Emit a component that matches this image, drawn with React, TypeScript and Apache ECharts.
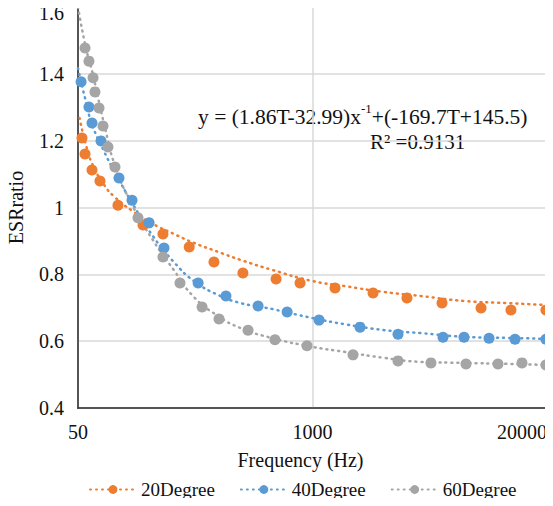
import React, { useEffect, useRef } from "react";
import * as echarts from "echarts";

// Measured points (frequency Hz, ESR ratio)
const freq20 = [52.6, 54.7, 59.8, 66.2, 83.3, 114.7, 148, 207, 284, 411, 628, 853, 1334, 2167, 3343, 5231, 8610, 12620, 19730];
const esr20 = [1.208, 1.16, 1.112, 1.079, 1.007, 0.948, 0.921, 0.882, 0.837, 0.804, 0.786, 0.774, 0.759, 0.744, 0.729, 0.714, 0.699, 0.693, 0.693];

const freq40 = [52.0, 57.5, 59.8, 67.1, 84.4, 99.7, 124, 150, 232, 331, 499, 723, 1087, 1835, 2981, 5298, 6930, 9535, 13290, 19730];
const esr40 = [1.376, 1.301, 1.253, 1.199, 1.088, 1.022, 0.954, 0.879, 0.774, 0.735, 0.705, 0.687, 0.663, 0.642, 0.621, 0.612, 0.612, 0.609, 0.606, 0.606];

const freq60 = [54.7, 57.5, 60.6, 62.1, 65.4, 68.8, 73.3, 80.2, 107.6, 148, 184, 244, 303, 439, 619, 932, 1678, 2981, 4541, 7107, 10690, 14530, 19730];
const esr60 = [1.477, 1.438, 1.388, 1.346, 1.298, 1.244, 1.181, 1.121, 0.969, 0.852, 0.774, 0.702, 0.666, 0.633, 0.604, 0.586, 0.559, 0.541, 0.535, 0.532, 0.532, 0.535, 0.529];

// Trend curves
const trendFreq = [50, 55, 60, 70, 80, 100, 130, 170, 220, 300, 400, 600, 1000, 1500, 2500, 4000, 7000, 12000, 20000];
const trendFreq20 = [51, 55, 60, 70, 80, 100, 130, 170, 220, 300, 400, 600, 1000, 1500, 2500, 4000, 7000, 12000, 20000];
const trend20 = [1.268, 1.193, 1.13, 1.067, 1.031, 0.99, 0.951, 0.921, 0.894, 0.867, 0.843, 0.813, 0.78, 0.765, 0.747, 0.735, 0.72, 0.714, 0.708];
const trend40 = [1.417, 1.322, 1.247, 1.166, 1.106, 1.013, 0.915, 0.837, 0.78, 0.738, 0.714, 0.696, 0.669, 0.651, 0.633, 0.624, 0.613, 0.61, 0.607];
const trend60 = [1.6, 1.483, 1.405, 1.247, 1.127, 1.007, 0.903, 0.813, 0.732, 0.675, 0.639, 0.609, 0.583, 0.568, 0.55, 0.538, 0.535, 0.532, 0.529];

const seriesNames = ["20Degree", "40Degree", "60Degree"];
const colors = ["#ED7D31", "#5B9BD5", "#A5A5A5"];
const xTicks = [50, 1000, 20000];

const FONT = "Liberation Serif";

function zip(xs: number[], ys: number[]) {
  return xs.map((x, i) => [x, ys[i]]);
}

export default function App() {
  const ref = useRef<HTMLDivElement>(null);
  useEffect(() => {
    if (!ref.current) return;
    const chart = echarts.init(ref.current, null, { renderer: "svg" });
    const pts = [zip(freq20, esr20), zip(freq40, esr40), zip(freq60, esr60)];
    const trends = [zip(trendFreq20, trend20), zip(trendFreq, trend40), zip(trendFreq, trend60)];
    const series: any[] = [];
    for (let i = 0; i < 3; i++) {
      series.push({
        name: seriesNames[i],
        type: "line",
        data: trends[i],
        smooth: true,
        symbol: "circle",
        symbolSize: 10,
        showSymbol: false,
        itemStyle: { color: colors[i] },
        lineStyle: { color: colors[i], width: 2.5, type: [1, 5], cap: "round" },
        z: 2,
      });
    }
    for (let i = 0; i < 3; i++) {
      series.push({
        name: seriesNames[i],
        type: "scatter",
        data: pts[i],
        symbol: "circle",
        symbolSize: 11,
        itemStyle: { color: colors[i], opacity: 1 },
        z: 3,
      });
    }
    chart.setOption({
      animation: false,
      textStyle: { fontFamily: FONT },
      grid: {
        left: 78,
        right: 6,
        top: 7,
        bottom: 98,
        show: true,
        borderColor: "#333",
        borderWidth: 1.5,
        outerBoundsMode: "none",
        containLabel: false,
      },
      xAxis: {
        type: "log",
        logBase: 20,
        min: 50,
        max: 20000,
        name: "Frequency (Hz)",
        nameLocation: "middle",
        nameGap: 42,
        nameTextStyle: { fontSize: 20, color: "#111", fontFamily: FONT, padding: [0, 24, 0, 0] },
        axisLine: { show: true, lineStyle: { color: "#333", width: 1.5 } },
        axisTick: { show: false, customValues: xTicks },
        axisLabel: {
          customValues: xTicks,
          fontSize: 20,
          color: "#111",
          fontFamily: FONT,
          margin: 14,
          alignMaxLabel: "right",
          formatter: (v: number) => String(Math.round(v)),
        },
        splitLine: { show: true, lineStyle: { color: "#d9d9d9", width: 1.5 } },
      },
      yAxis: {
        type: "value",
        min: 0.4,
        max: 1.6,
        interval: 0.2,
        name: "ESRratio",
        nameLocation: "middle",
        nameGap: 52,
        nameTextStyle: { fontSize: 20, color: "#111", fontFamily: FONT },
        axisLine: { show: true, lineStyle: { color: "#333", width: 1.5 } },
        axisTick: { show: false },
        axisLabel: {
          fontSize: 20,
          color: "#111",
          fontFamily: FONT,
          margin: 14,
          formatter: (v: number) => {
            const s = String(Math.round(v * 10) / 10);
            return v > 1.55 ? "{t|" + s + "}" : s;
          },
          rich: {
            t: { fontSize: 20, color: "#111", fontFamily: FONT, padding: [11, 0, 0, 0] },
          },
        },
        splitLine: { show: true, lineStyle: { color: "#d9d9d9", width: 1.5 } },
      },
      legend: {
        data: seriesNames,
        top: 475,
        left: 84,
        itemWidth: 46,
        itemHeight: 11,
        itemGap: 25,
        textStyle: { fontSize: 19, color: "#111", fontFamily: FONT },
      },
      graphic: [
        {
          type: "text",
          left: 198,
          top: 102,
          style: {
            text: "{a|y = (1.86T-32.99)x}{s|-1}{a|+(-169.7T+145.5)}",
            rich: {
              a: { fontSize: 21.5, fill: "#111", fontFamily: FONT, verticalAlign: "bottom", lineHeight: 26 },
              s: { fontSize: 13, fill: "#111", fontFamily: FONT, verticalAlign: "top", lineHeight: 26, padding: [0, 0, 10, 0] },
            },
          },
        },
        {
          type: "text",
          left: 370,
          top: 131,
          style: { text: "R² =0.9131", fontSize: 21, fill: "#111", fontFamily: FONT },
        },
      ],
      series,
    });
    return () => chart.dispose();
  }, []);
  return <div ref={ref} style={{ width: 553, height: 506, margin: -8 }} />;
}
